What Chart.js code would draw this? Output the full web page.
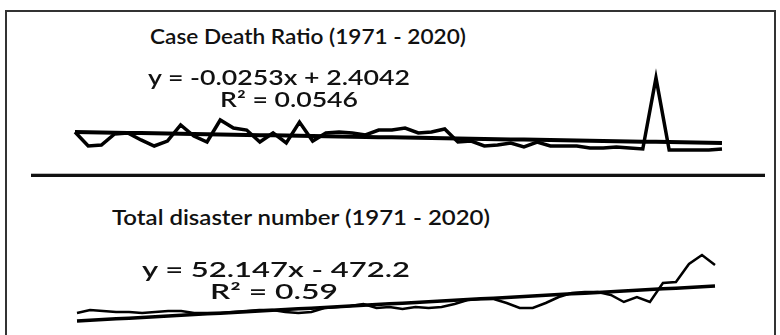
<!DOCTYPE html>
<html>
<head>
<meta charset="utf-8">
<script src="https://cdn.jsdelivr.net/npm/chart.js@4.4.0/dist/chart.umd.min.js"></script>
<style>
  html, body { margin: 0; padding: 0; background: #fff; overflow: hidden; }
  body { width: 780px; height: 335px; position: relative; font-family: Lato, "Open Sans", sans-serif; }
  .frame { position: absolute; left: 5px; top: 10px; width: 771px; height: 340px; border: 2px solid #333; box-sizing: border-box; }
  .divider { position: absolute; left: 31px; top: 174px; width: 734px; height: 3px; background: #111; box-shadow: 0 -1px 0 #bbb; }
  .label { position: absolute; white-space: nowrap; color: #111; font-weight: 600; transform-origin: 0 50%; line-height: 1; }
  canvas { position: absolute; }
</style>
</head>
<body>
<div class="frame"></div>
<div class="divider"></div>
<canvas id="cdrChart" width="667" height="110" style="left:65px; top:60px;"></canvas>
<canvas id="totalChart" width="658" height="110" style="left:67px; top:230px;"></canvas>

<script>
// Years on the x axis
const years = Array.from({ length: 50 }, (_, i) => 1971 + i);

// Case death ratio
const caseDeathRatio = [
    2.38, 0.80, 0.91, 2.15, 2.27, 1.48, 0.80, 1.36, 3.17, 1.93,
    1.25, 3.73, 2.83, 2.60, 1.25, 2.27, 1.14, 3.50, 1.36, 2.27,
    2.38, 2.27, 2.04, 2.60, 2.60, 2.83, 2.27, 2.38, 2.72, 1.25,
    1.36, 0.80, 0.91, 1.14, 0.69, 1.25, 0.80, 0.80, 0.80, 0.57,
    0.57, 0.69, 0.57, 0.46, 8.47, 0.35, 0.35, 0.35, 0.35, 0.46
];

// Total disaster number
const totalDisasters = [
    164, 383, 310, 237, 237, 164, 237, 310, 310, 164,
    164, 164, 237, 310, 383, 383, 237, 164, 237, 529,
    602, 675, 821, 529, 602, 456, 602, 529, 602, 821,
    1113, 1186, 1186, 894, 529, 529, 894, 1332, 1624, 1697,
    1697, 1478, 967, 1332, 967, 2354, 2427, 3741, 4398, 3668
];

// Trendline equations printed on the chart
const cdrTrend = { slope: -0.0253, intercept: 2.4042, r2: '0.0546' };
const totalTrend = { slope: 52.147, intercept: -472.2, r2: '0.59' };

// Axis limits (axes themselves are hidden in the figure)
const cdrRange = { min: -0.78, max: 9.37 };
const totalRange = { min: -1077, max: 5493 };

function trendValues(trend) {
    return years.map((_, i) => trend.slope * (i + 1) + trend.intercept);
}

function makeChart(id, values, trend, range, lineWidth, trendWidth) {
    const ctx = document.getElementById(id).getContext('2d');
    return new Chart(ctx, {
        type: 'line',
        data: {
            labels: years,
            datasets: [
                {
                    data: values,
                    borderColor: '#000',
                    borderWidth: lineWidth,
                    pointRadius: 0,
                    tension: 0,
                    clip: false
                },
                {
                    data: trendValues(trend),
                    borderColor: '#000',
                    borderWidth: trendWidth,
                    pointRadius: 0,
                    tension: 0,
                    clip: false
                }
            ]
        },
        options: {
            responsive: false,
            animation: false,
            layout: { padding: 10 },
            scales: {
                x: { display: false, offset: false },
                y: { display: false, min: range.min, max: range.max }
            },
            plugins: {
                legend: { display: false },
                tooltip: { enabled: false }
            }
        }
    });
}

// Text is stretched wide in the figure, so fit each label to its span
function placeLabel(text, left, right, centerY, size) {
    const el = document.createElement('div');
    el.className = 'label';
    el.textContent = text;
    el.style.fontSize = size + 'px';
    document.body.appendChild(el);
    const w = el.getBoundingClientRect().width;
    el.style.left = left + 'px';
    el.style.top = (centerY - el.offsetHeight / 2) + 'px';
    el.style.transform = `scaleX(${(right - left) / w})`;
}

function fmt(v) {
    return v < 0 ? '- ' + Math.abs(v) : '+ ' + v;
}

document.fonts.load('600 20px Lato').then(() => {
    makeChart('cdrChart', caseDeathRatio, cdrTrend, cdrRange, 3.5, 4);
    makeChart('totalChart', totalDisasters, totalTrend, totalRange, 2.5, 3.5);

    placeLabel('Case Death Ratio (1971 - 2020)', 150, 466, 35, 21);
    placeLabel('y = ' + cdrTrend.slope + 'x ' + fmt(cdrTrend.intercept), 148, 410, 76, 21);
    placeLabel('R\u00b2 = ' + cdrTrend.r2, 220, 358, 98, 21);

    placeLabel('Total disaster number (1971 - 2020)', 112, 490, 216, 21);
    placeLabel('y = ' + totalTrend.slope + 'x ' + fmt(totalTrend.intercept), 142, 410, 268, 21);
    placeLabel('R\u00b2 = ' + totalTrend.r2, 210, 338, 290, 21);
});
</script>
</body>
</html>
